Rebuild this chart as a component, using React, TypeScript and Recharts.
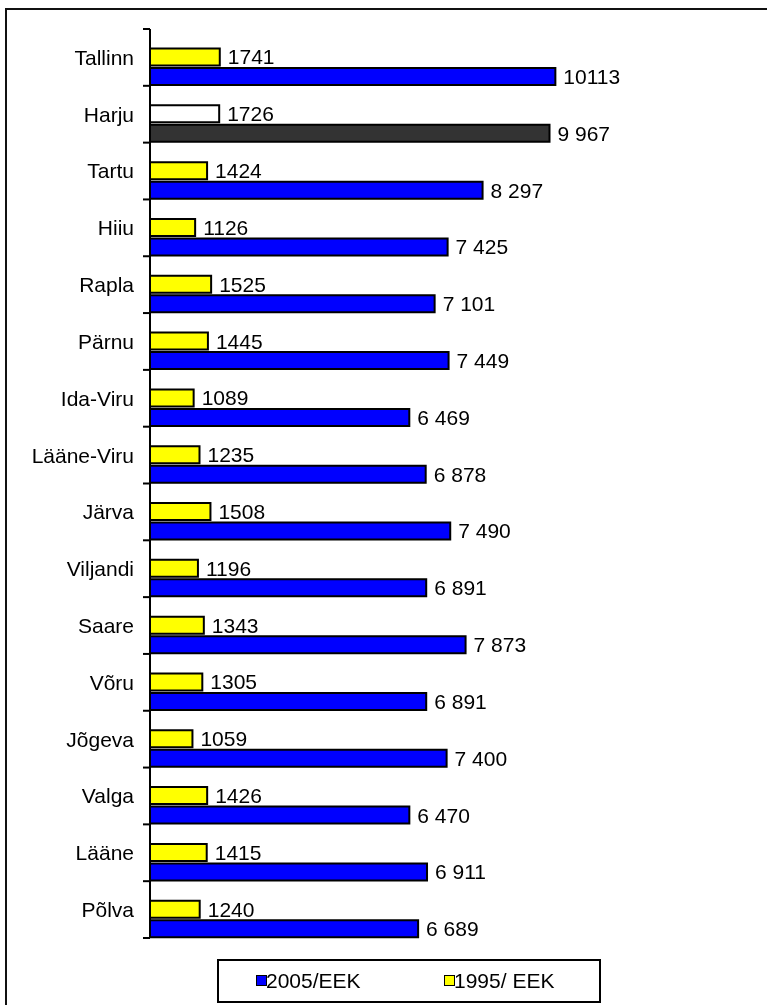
import React from 'react';
import { BarChart, Bar, XAxis, YAxis, Cell, LabelList } from 'recharts';

const counties = ['Tallinn', 'Harju', 'Tartu', 'Hiiu', 'Rapla', 'Pärnu', 'Ida-Viru', 'Lääne-Viru', 'Järva', 'Viljandi', 'Saare', 'Võru', 'Jõgeva', 'Valga', 'Lääne', 'Põlva'];
const eek2005 = [10113, 9967, 8297, 7425, 7101, 7449, 6469, 6878, 7490, 6891, 7873, 6891, 7400, 6470, 6911, 6689];
const eek1995 = [1741, 1726, 1424, 1126, 1525, 1445, 1089, 1235, 1508, 1196, 1343, 1305, 1059, 1426, 1415, 1240];
const seriesNames = ['2005/EEK', '1995/ EEK'];
const highlighted = 'Harju';

const COLORS = { y2005: '#0000FF', y1995: '#FFFF00', hi2005: '#333333', hi1995: '#FFFFFF' };
const FONT = '"Liberation Sans", Arial, sans-serif';

const W = 767;
const H = 1005;
const MARGIN = { top: 29, right: 136, bottom: 67, left: 0 };
const Y_AXIS_W = 150;
const AXIS_X = MARGIN.left + Y_AXIS_W;
const BAND_HALF = (H - MARGIN.top - MARGIN.bottom) / counties.length / 2;
const FS = 21;

const data = counties.map((name, i) => ({ name, y2005: eek2005[i], y1995: eek1995[i] }));

const fmt2005 = (v: any) => {
  const n = Number(v);
  if (n >= 10000) return String(n);
  return `${Math.floor(n / 1000)} ${String(n % 1000).padStart(3, '0')}`;
};

const CategoryTick = (props: any) => {
  const { y, payload, index } = props;
  const last = index === counties.length - 1;
  return (
    <g>
      <line x1={AXIS_X - 7} x2={AXIS_X} y1={y - BAND_HALF} y2={y - BAND_HALF} stroke="#000" strokeWidth={2} />
      {last && <line x1={AXIS_X - 7} x2={AXIS_X} y1={y + BAND_HALF} y2={y + BAND_HALF} stroke="#000" strokeWidth={2} />}
      <text x={AXIS_X - 16} y={y} dy="0.355em" textAnchor="end" fontSize={FS} fontFamily={FONT} fill="#000">
        {payload.value}
      </text>
    </g>
  );
};

export default function App() {
  return (
    <div>
      <div
        style={{
          position: 'fixed', left: 5, top: 8, width: 762, height: 997,
          borderLeft: '2px solid #111', borderTop: '2px solid #111', boxSizing: 'border-box',
        }}
      />
      <div style={{ position: 'fixed', left: 0, top: 0, width: W, height: H }}>
        <BarChart
          width={W}
          height={H}
          data={data}
          layout="vertical"
          margin={MARGIN}
          barCategoryGap={0}
          barGap={2.5}
          style={{ fontFamily: FONT }}
        >
          <XAxis type="number" domain={[0, 12000]} hide />
          <YAxis
            type="category"
            dataKey="name"
            width={Y_AXIS_W}
            interval={0}
            tickLine={false}
            tickSize={0}
            tickMargin={16}
            axisLine={{ stroke: '#000', strokeWidth: 2 }}
            tick={<CategoryTick />}
          />
          <Bar dataKey="pad" fill="none" isAnimationActive={false} />
          <Bar dataKey="y1995" name={seriesNames[1]} fill={COLORS.y1995} stroke="#000" strokeWidth={2} isAnimationActive={false}>
            {data.map((d) => (
              <Cell key={d.name} fill={d.name === highlighted ? COLORS.hi1995 : COLORS.y1995} />
            ))}
            <LabelList dataKey="y1995" position="right" offset={8} fill="#000" fontSize={FS} fontFamily={FONT} />
          </Bar>
          <Bar dataKey="y2005" name={seriesNames[0]} fill={COLORS.y2005} stroke="#000" strokeWidth={2} isAnimationActive={false}>
            {data.map((d) => (
              <Cell key={d.name} fill={d.name === highlighted ? COLORS.hi2005 : COLORS.y2005} />
            ))}
            <LabelList dataKey="y2005" position="right" offset={8} fill="#000" fontSize={FS} fontFamily={FONT} formatter={fmt2005} />
          </Bar>
        </BarChart>
      </div>
      <div
        style={{
          position: 'fixed', left: 217, top: 959, width: 384, height: 44,
          border: '2px solid #000', boxSizing: 'border-box', fontFamily: FONT, fontSize: 21, color: '#000',
        }}
      >
        {[
          { name: seriesNames[0], color: COLORS.y2005, sq: 37, tx: 47 },
          { name: seriesNames[1], color: COLORS.y1995, sq: 225, tx: 235 },
        ].map((it) => (
          <React.Fragment key={it.name}>
            <div
              style={{
                position: 'absolute', left: it.sq, top: 14, width: 11, height: 11,
                background: it.color, border: '1.5px solid #000', boxSizing: 'border-box',
              }}
            />
            <div style={{ position: 'absolute', left: it.tx, top: 0, height: 40, lineHeight: '40px', whiteSpace: 'nowrap' }}>
              {it.name}
            </div>
          </React.Fragment>
        ))}
      </div>
    </div>
  );
}
